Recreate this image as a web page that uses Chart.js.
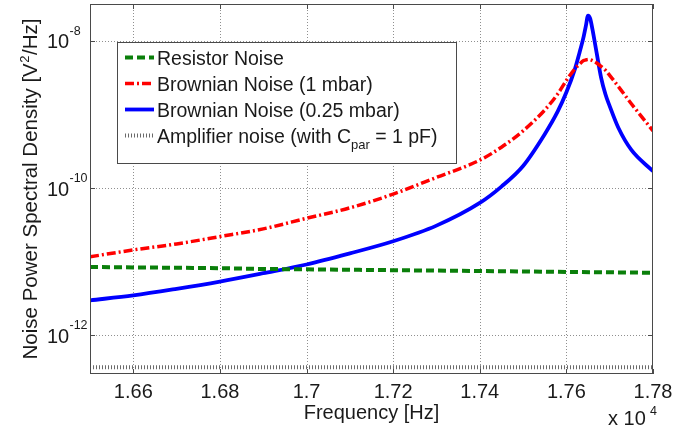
<!DOCTYPE html>
<html><head><meta charset="utf-8">
<script src="https://cdn.jsdelivr.net/npm/chart.js@4.4.1/dist/chart.umd.min.js"></script>
<style>html,body{margin:0;padding:0;background:#fff;}canvas{display:block}</style>
</head><body>
<canvas id="c" width="694" height="431"></canvas>
<script>
// ---- data ----
const frequencies = [16500,16600,16700,16800,16900,17000,17100,17200,17300,17400,17450,17500,17550,17580,17600,17620,17630,17640,17645,17650,17655,17660,17670,17680,17690,17700,17720,17750,17800];
const brownian1mbar = [1.17e-11,1.45e-11,1.75e-11,2.2e-11,2.8e-11,3.9e-11,5.4e-11,8.3e-11,1.4e-10,2.4e-10,3.6e-10,6.0e-10,1.15e-9,1.9e-9,2.9e-9,4.2e-9,4.8e-9,5.4e-9,5.5e-9,5.6e-9,5.55e-9,5.4e-9,5.0e-9,4.5e-9,4.0e-9,3.4e-9,2.4e-9,1.4e-9,6.0e-10];
const brownian025mbar = [3.0e-12,3.5e-12,4.3e-12,5.4e-12,7.0e-12,9.2e-12,1.3e-11,1.9e-11,3.1e-11,6.3e-11,1.05e-10,2.0e-10,5.4e-10,1.1e-9,2.0e-9,4.2e-9,6.8e-9,1.15e-8,1.6e-8,2.2e-8,2.0e-8,1.45e-8,6.8e-9,3.2e-9,1.9e-9,1.3e-9,6.6e-10,3.3e-10,1.7e-10];
const flatFrequencies = [16500,16600,16700,16800,16900,17000,17100,17200,17300,17400,17500,17600,17700,17800];
const resistorNoise = [8.5e-12,8.4e-12,8.3e-12,8.2e-12,8.0e-12,7.9e-12,7.8e-12,7.7e-12,7.6e-12,7.5e-12,7.4e-12,7.3e-12,7.2e-12,7.1e-12];
const amplifierNoise = [3.7e-13,3.7e-13,3.7e-13,3.7e-13,3.7e-13,3.7e-13,3.7e-13,3.7e-13,3.7e-13,3.7e-13,3.7e-13,3.7e-13,3.7e-13,3.7e-13];
const xTickValues = [16600,16800,17000,17200,17400,17600,17800];
const xTickLabels = ['1.66','1.68','1.7','1.72','1.74','1.76','1.78'];
const yTickValues = [1e-12,1e-10,1e-8];
const yTickExponents = ['-12','-10','-8'];
const seriesNames = ['Resistor Noise','Brownian Noise (1 mbar)','Brownian Noise (0.25 mbar)','Amplifier noise (with C'];
const xAxisTitle = 'Frequency [Hz]';
const yAxisTitleParts = ['Noise Power Spectral Density [V', '2', '/Hz]'];

// ---- styles ----
const FONT = '"Liberation Sans", Arial, sans-serif';
const TXT = '#1a1a1a';
const styles = [
  {color:'#0a7f0a', width:4, dash:[8,4]},
  {color:'#ff0000', width:3.5, dash:[9,3,2,3]},
  {color:'#0000ff', width:3.8, dash:[]},
  {color:'#6a6a6a', width:4, dash:[1,2]}
];

const pts = (xs, ys) => xs.map((f,i)=>({x:f, y:ys[i]}));
const seriesData = [
  pts(flatFrequencies, resistorNoise),
  pts(frequencies, brownian1mbar),
  pts(frequencies, brownian025mbar),
  pts(flatFrequencies, amplifierNoise)
];

const customDraw = {
  id:'customDraw',
  beforeDatasetsDraw(chart){
    const {ctx, chartArea:a, scales:{x,y}} = chart;
    ctx.save();
    ctx.strokeStyle='#8f8f8f'; ctx.lineWidth=1; ctx.setLineDash([1,2]);
    xTickValues.forEach(v=>{
      const px=Math.round(x.getPixelForValue(v))+0.5;
      if (px>a.right-2) return;
      ctx.beginPath(); ctx.moveTo(px,a.top); ctx.lineTo(px,a.bottom); ctx.stroke();
    });
    yTickValues.forEach(v=>{
      const py=Math.round(y.getPixelForValue(v))+0.5;
      ctx.beginPath(); ctx.moveTo(a.left,py); ctx.lineTo(a.right,py); ctx.stroke();
    });
    ctx.restore();
  },
  afterDatasetsDraw(chart){
    const {ctx, chartArea:a, scales:{x,y}} = chart;
    ctx.save();
    // frame
    ctx.setLineDash([]);
    ctx.strokeStyle='#4a4a4a'; ctx.lineWidth=1;
    ctx.strokeRect(Math.round(a.left)+0.5, Math.round(a.top)+0.5, Math.round(a.right-a.left)-1, Math.round(a.bottom-a.top)-1);
    // tick marks (inward, all sides)
    const L=5;
    xTickValues.forEach(v=>{
      const px=Math.round(x.getPixelForValue(v))+0.5;
      ctx.beginPath();
      ctx.moveTo(px,a.bottom); ctx.lineTo(px,a.bottom-L);
      ctx.moveTo(px,a.top); ctx.lineTo(px,a.top+L);
      ctx.stroke();
    });
    yTickValues.forEach(v=>{
      const py=Math.round(y.getPixelForValue(v))+0.5;
      ctx.beginPath();
      ctx.moveTo(a.left,py); ctx.lineTo(a.left+L,py);
      ctx.moveTo(a.right,py); ctx.lineTo(a.right-L,py);
      ctx.stroke();
    });
    // x tick labels
    ctx.fillStyle=TXT;
    ctx.font='20px '+FONT; ctx.textAlign='center'; ctx.textBaseline='alphabetic';
    xTickValues.forEach((v,i)=>{ ctx.fillText(xTickLabels[i], x.getPixelForValue(v), 398); });
    // y tick labels with superscripts
    yTickValues.forEach((v,i)=>{
      const py=y.getPixelForValue(v);
      ctx.textAlign='left';
      ctx.font='20px '+FONT; ctx.fillText('10', 47, py+7.5);
      ctx.font='12.5px '+FONT; ctx.fillText(yTickExponents[i], 69.5, py-6);
    });
    // axis titles
    ctx.font='20px '+FONT; ctx.textAlign='center';
    ctx.fillText(xAxisTitle, (a.left+a.right)/2, 419);
    ctx.save();
    ctx.translate(37, (a.top+a.bottom)/2);
    ctx.rotate(-Math.PI/2);
    ctx.textAlign='left';
    const big='20.5px '+FONT, small='13px '+FONT;
    ctx.font=big; const w0=ctx.measureText(yAxisTitleParts[0]).width;
    ctx.font=small; const w1=ctx.measureText(yAxisTitleParts[1]).width;
    ctx.font=big; const w2=ctx.measureText(yAxisTitleParts[2]).width;
    const total=w0+w1+w2+1;
    let sx=-total/2;
    ctx.font=big; ctx.fillText(yAxisTitleParts[0], sx, 0); sx+=w0+0.5;
    ctx.font=small; ctx.fillText(yAxisTitleParts[1], sx, -8); sx+=w1+0.5;
    ctx.font=big; ctx.fillText(yAxisTitleParts[2], sx, 0);
    ctx.restore();
    // x 10^4 multiplier
    ctx.textAlign='left';
    ctx.font='20px '+FONT; ctx.fillText('x 10', 608, 425);
    ctx.font='12.5px '+FONT; ctx.fillText('4', 650, 415);
    // legend
    const bx=117, by=42, bw=339, bh=121;
    ctx.fillStyle='#ffffff'; ctx.fillRect(bx,by,bw,bh);
    ctx.strokeStyle='#4a4a4a'; ctx.lineWidth=1;
    ctx.strokeRect(bx+0.5,by+0.5,bw,bh);
    const rowsBase=[64.5,90.5,116.5,142.5];
    seriesNames.forEach((name,i)=>{
      const s=styles[i];
      const cy=rowsBase[i]-7;
      ctx.save();
      ctx.strokeStyle=s.color; ctx.lineWidth=s.width; ctx.setLineDash(s.dash); ctx.lineCap='butt';
      ctx.beginPath(); ctx.moveTo(125,cy); ctx.lineTo(154,cy); ctx.stroke();
      ctx.restore();
      ctx.fillStyle=TXT; ctx.textAlign='left';
      ctx.font='19.5px '+FONT;
      ctx.fillText(name, 157, rowsBase[i]);
      if (i===3){
        let w=ctx.measureText(name).width;
        ctx.font='13px '+FONT;
        ctx.fillText('par', 157+w, rowsBase[i]+6);
        const w2=ctx.measureText('par').width;
        ctx.font='19.5px '+FONT;
        ctx.fillText(' = 1 pF)', 157+w+w2, rowsBase[i]);
      }
    });
    ctx.restore();
  }
};

new Chart(document.getElementById('c'), {
  type:'line',
  data:{
    datasets: seriesData.map((d,i)=>({
      label: seriesNames[i],
      data: d,
      borderColor: styles[i].color,
      borderWidth: styles[i].width,
      borderDash: styles[i].dash,
      borderCapStyle:'butt',
      pointRadius:0,
      fill:false,
      cubicInterpolationMode:'monotone'
    }))
  },
  options:{
    responsive:false,
    animation:false,
    devicePixelRatio:1,
    layout:{padding:{left:0,top:4,right:41,bottom:0}},
    plugins:{legend:{display:false}, tooltip:{enabled:false}},
    scales:{
      x:{type:'linear', min:16500, max:17800,
         ticks:{display:false}, grid:{display:false}, border:{display:false},
         afterFit(s){ s.height=57; }},
      y:{type:'logarithmic', min:Math.pow(10,-12.5), max:Math.pow(10,-7.5),
         ticks:{display:false}, grid:{display:false}, border:{display:false},
         afterFit(s){ s.width=90; }}
    }
  },
  plugins:[customDraw]
});
</script>
</body></html>
